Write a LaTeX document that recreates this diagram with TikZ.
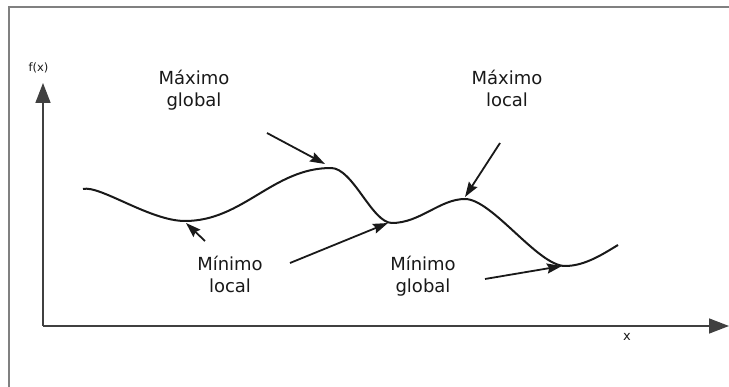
\documentclass[tikz,border=0pt]{standalone}
\usepackage{fontspec}
\setmainfont{DejaVu Sans}
\usetikzlibrary{arrows.meta}
\begin{document}
\begin{tikzpicture}[x=1pt,y=-1pt,
  lbl/.style={align=center, font=\fontsize{18}{22.5}\selectfont, text=black!90, anchor=base, inner sep=0pt},
  axis/.style={line width=1.6pt, draw=black!75, -{Triangle[length=20pt,width=15pt]}},
  curve/.style={line width=2pt, draw=black!90},
  pointer/.style={line width=1.8pt, draw=black!90, -{Stealth[length=15pt,width=10pt,inset=2pt]}},
  frame/.style={line width=1.5pt, draw=black!50}]
\useasboundingbox (0,0) rectangle (729,387);
% frame
\draw[frame] (9,387) -- (9,7) -- (729,7);
% axes
\coordinate (O) at (43,326);
\coordinate (Y) at (43,83);
\coordinate (X) at (729,326);
\draw[axis] (O) -- (Y);
\draw[axis] (O) -- (X);
\node[font=\fontsize{11.5}{13}\selectfont, text=black!90] (fx) at (38.5,68) {f(x)};
\node[font=\fontsize{13}{15}\selectfont, text=black!90] (xl) at (627,337) {x};
% curve
\coordinate (c0) at (83,189);
\coordinate (c1) at (185,221);
\coordinate (c2) at (331,168);
\coordinate (c3) at (392,223);
\coordinate (c4) at (465,199);
\coordinate (c5) at (565,266);
\coordinate (c6) at (618,245);
\draw[curve] (c0) .. controls (100,185) and (150,221) .. (c1)
  .. controls (243,221) and (273,168) .. (c2)
  .. controls (353,168) and (372,223) .. (c3)
  .. controls (420,223) and (440,199) .. (c4)
  .. controls (492,199) and (538,266) .. (c5)
  .. controls (585,266) and (603,254) .. (c6);
% labels (base anchor = baseline of the last line)
\node[lbl] (maxg) at (194,107) {Máximo\\global};
\node[lbl] (maxl) at (507,107) {Máximo\\local};
\node[lbl] (minl) at (230,293) {Mínimo\\local};
\node[lbl] (ming) at (423,293) {Mínimo\\global};
% pointer tails and tips
\coordinate (t1) at (267,133); \coordinate (p1) at (325,164);
\coordinate (t2) at (205,241); \coordinate (p2) at (186,223);
\coordinate (t3) at (290,263); \coordinate (p3) at (388,223);
\coordinate (t4) at (500,143); \coordinate (p4) at (465,197);
\coordinate (t5) at (485,279); \coordinate (p5) at (562,266);
\draw[pointer] (t1) -- (p1);
\draw[pointer] (t2) -- (p2);
\draw[pointer] (t3) -- (p3);
\draw[pointer] (t4) -- (p4);
\draw[pointer] (t5) -- (p5);
\end{tikzpicture}
\end{document}
